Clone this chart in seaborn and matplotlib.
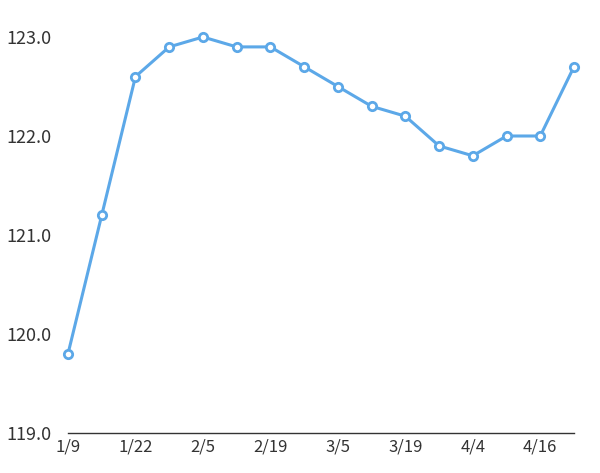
import matplotlib
matplotlib.use("Agg")
import matplotlib.pyplot as plt
import seaborn as sns
import pandas as pd

# data
dates = ["1/9", "1/15", "1/22", "1/29", "2/5", "2/12", "2/19", "2/26",
         "3/5", "3/12", "3/19", "3/26", "4/4", "4/9", "4/16", "4/23"]
values = [119.8, 121.2, 122.6, 122.9, 123.0, 122.9, 122.9, 122.7,
          122.5, 122.3, 122.2, 121.9, 121.8, 122.0, 122.0, 122.7]
tick_labels = ["1/9", "1/22", "2/5", "2/19", "3/5", "3/19", "4/4", "4/16"]
y_ticks = [119.0, 120.0, 121.0, 122.0, 123.0]

df = pd.DataFrame({"idx": range(len(dates)), "date": dates, "value": values})

sns.set_style("white")
plt.rcParams["font.family"] = ["Noto Sans CJK JP", "DejaVu Sans"]

fig = plt.figure(figsize=(6, 4.73), dpi=100)
ax = fig.add_axes([68 / 600, 40 / 473, 506 / 600, 396 / 473])

line_color = "#5ca8e8"
sns.lineplot(data=df, x="idx", y="value", ax=ax, color=line_color, linewidth=2.2,
             marker="o", markersize=6, markerfacecolor="white",
             markeredgecolor=line_color, markeredgewidth=2, clip_on=False)

ax.set_xlim(0, len(dates) - 1)
ax.set_ylim(119, 123)
ax.set_xticks([dates.index(t) for t in tick_labels])
ax.set_xticklabels(tick_labels)
ax.set_yticks(y_ticks)
ax.set_yticklabels([f"{v:.1f}" for v in y_ticks])
ax.set_xlabel("")
ax.set_ylabel("")

for side in ["top", "right", "left"]:
    ax.spines[side].set_visible(False)
ax.spines["bottom"].set_color("#333333")
ax.spines["bottom"].set_linewidth(1)
ax.tick_params(axis="both", length=0, colors="#333333")
ax.tick_params(axis="x", pad=4, labelsize=12)
ax.tick_params(axis="y", pad=12, labelsize=13)

fig.savefig("out.png", dpi=100)
plt.close(fig)
